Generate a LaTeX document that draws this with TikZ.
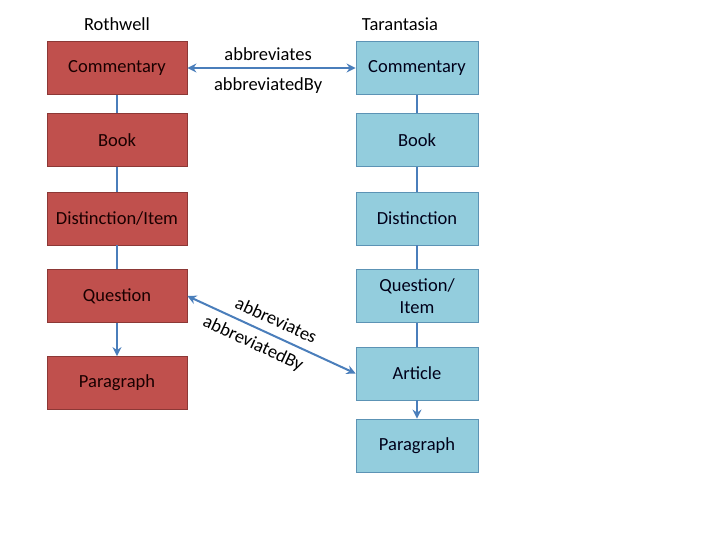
\documentclass[tikz,border=0pt]{standalone}
\usepackage{fontspec}
\setmainfont{Carlito}
\usetikzlibrary{arrows.meta}
\definecolor{redfill}{HTML}{C0504D}
\definecolor{redline}{HTML}{8C3836}
\definecolor{bluefill}{HTML}{93CDDD}
\definecolor{blueline}{HTML}{5C93B5}
\definecolor{conn}{HTML}{4A7EBB}
\tikzset{
  redbox/.style={draw=redline, line width=0.8pt, fill=redfill, minimum width=140pt, minimum height=53pt, inner sep=2pt, align=center, text=black!90!red, font=\fontsize{18.5}{21.5}\selectfont},
  bluebox/.style={draw=blueline, line width=0.8pt, fill=bluefill, minimum width=122pt, minimum height=53pt, inner sep=2pt, align=center, text=black!90!blue, font=\fontsize{18.5}{21.5}\selectfont},
  link/.style={draw=conn, line width=2pt},
  arr/.style={link, -{Stealth[length=9pt,width=9pt,inset=3pt]}},
  biarr/.style={link, {Stealth[length=9pt,width=9pt,inset=3pt]}-{Stealth[length=9pt,width=9pt,inset=3pt]}},
  lbl/.style={font=\fontsize{18.5}{21.5}\selectfont, text=black, inner sep=1pt},
}
\begin{document}
\begin{tikzpicture}[x=1pt,y=-1pt]
\useasboundingbox (0,0) rectangle (720,540);
\node[lbl] (rh) at (117,24) {Rothwell};
\node[lbl] (th) at (400,24) {Tarantasia};

\node[redbox] (r1) at (117,68) {Commentary};
\node[redbox] (r2) at (117,140) {Book};
\node[redbox] (r3) at (117,218.5) {Distinction/Item};
\node[redbox] (r4) at (117,296) {Question};
\node[redbox] (r5) at (117,383) {Paragraph};

\node[bluebox] (b1) at (417,68) {Commentary};
\node[bluebox] (b2) at (417,140) {Book};
\node[bluebox] (b3) at (417,218.5) {Distinction};
\node[bluebox] (b4) at (417,296) {Question/\\Item};
\node[bluebox] (b5) at (417,373.5) {Article};
\node[bluebox] (b6) at (417,445.5) {Paragraph};

\draw[link] (r1) -- (r2);
\draw[link] (r2) -- (r3);
\draw[link] (r3) -- (r4);
\draw[arr] (r4) -- (r5);

\draw[link] (b1) -- (b2);
\draw[link] (b2) -- (b3);
\draw[link] (b3) -- (b4);
\draw[link] (b4) -- (b5);
\draw[arr] (b5) -- (b6);

\draw[biarr] (r1.east) -- (b1.west)
  node[lbl, pos=0.48, above=5pt] {abbreviates}
  node[lbl, pos=0.48, below=8pt] {abbreviatedBy};
\draw[biarr] (r4.east) -- (b5.west)
  node[lbl, pos=0.49, sloped, above=7pt] {abbreviates}
  node[lbl, pos=0.43, sloped, below=6pt] {abbreviatedBy};
\end{tikzpicture}
\end{document}
